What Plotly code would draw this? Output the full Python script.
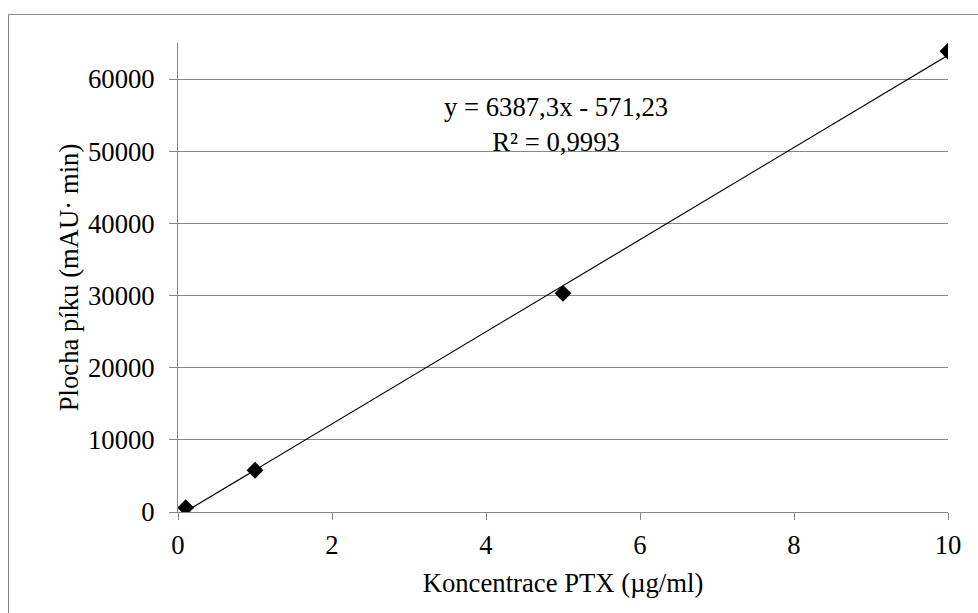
import plotly.graph_objects as go

# Data
conc = [0.1, 1, 5, 10]
area = [600, 5780, 30300, 63850]
slope = 6387.3
intercept = -571.23
r2_text = "R² = 0,9993"
eq_text = "y = 6387,3x - 571,23"
x_ticks = [0, 2, 4, 6, 8, 10]
y_ticks = [0, 10000, 20000, 30000, 40000, 50000, 60000]

FONT = "Liberation Serif, Times New Roman, serif"
FS = 26.7
GRAY = "#868686"

line_x = [min(conc), max(conc)]
line_y = [slope * v + intercept for v in line_x]

fig = go.Figure()
fig.add_trace(go.Scatter(x=line_x, y=line_y, mode="lines",
                         line=dict(color="black", width=1.2), showlegend=False))
fig.add_trace(go.Scatter(x=conc, y=area, mode="markers",
                         marker=dict(symbol="diamond", size=13, color="black"),
                         showlegend=False))

fig.add_annotation(x=4.91, y=53740, xref="x", yref="y",
                   text=eq_text + "<br>" + r2_text, showarrow=False,
                   font=dict(family=FONT, size=FS, color="black"), align="center")

# outer chart border (left and top edges visible in the frame)
bx = (8.5 - 178) / 770
by = (512 - 14.5) / 469
fig.add_shape(type="line", xref="paper", yref="paper", x0=bx, x1=bx, y0=-0.4, y1=by,
              line=dict(color=GRAY, width=1), layer="below")
fig.add_shape(type="line", xref="paper", yref="paper", x0=bx, x1=1.3, y0=by, y1=by,
              line=dict(color=GRAY, width=1), layer="below")

fig.update_layout(
    width=978, height=613,
    margin=dict(l=178, r=30, t=43, b=101),
    paper_bgcolor="white", plot_bgcolor="white",
    font=dict(family=FONT, size=FS, color="black"),
    xaxis=dict(range=[0, 10], tickvals=x_ticks, showgrid=False, zeroline=False,
               showline=True, linecolor=GRAY, linewidth=1,
               ticks="outside", ticklen=7, tickcolor=GRAY, ticklabelstandoff=2,
               tickfont=dict(family=FONT, size=FS, color="black"),
               title=dict(text="Koncentrace PTX (µg/ml)", standoff=14,
                          font=dict(family=FONT, size=FS, color="black"))),
    yaxis=dict(range=[0, 65000], tickvals=y_ticks, tickformat="d",
               showgrid=True, gridcolor=GRAY, gridwidth=1, zeroline=False,
               showline=True, linecolor=GRAY, linewidth=1,
               ticks="outside", ticklen=8, tickcolor=GRAY, ticklabelstandoff=9,
               tickfont=dict(family=FONT, size=FS, color="black"),
               title=dict(text="Plocha píku (mAU· min)", standoff=1,
                          font=dict(family=FONT, size=FS, color="black"))),
)

fig.write_html("out.html")
